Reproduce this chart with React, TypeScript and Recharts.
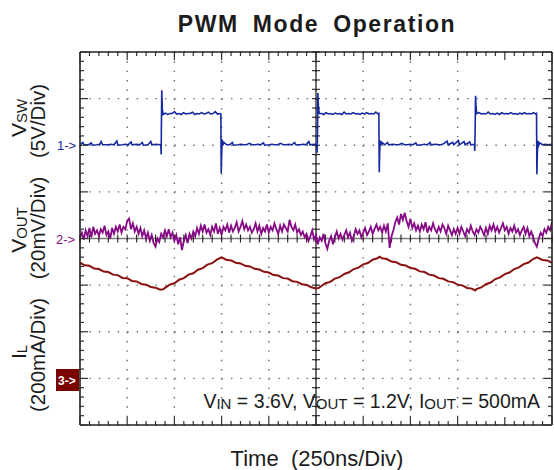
import React from 'react';
import { LineChart, Line, XAxis, YAxis, CartesianGrid, ReferenceLine } from 'recharts';

// scope screen: 10 div x 250 ns, 8 div vertical
const timeGrid = [0, 250, 500, 750, 1000, 1250, 1500, 1750, 2000, 2250, 2500];
const divGrid = [0, 1, 2, 3, 4, 5, 6, 7, 8];
const timeMinor = Array.from({ length: 51 }, (_, i) => i * 50);
const divMinor = Array.from({ length: 41 }, (_, i) => i / 5);

// CH1 - switch node (V), 5V/div, ground marker 2 div below top
const vswPoints: [number, number][] = [
  [0, 0.05], [15, 0.3], [22, 0.05], [45, 0.05], [60, 0.25], [66, 0.0], [90, 0.05], [105, 0.1], [112, 0.4], [120, 0.05],
  [150, 0.05], [165, 0.1], [180, 0.05], [195, 0.45], [201, 0.0], [225, 0.05], [240, 0.1], [255, 0.05], [270, 0.35], [276, 0.05],
  [300, 0.1], [315, 0.05], [330, 0.3], [336, 0.0], [360, 0.05], [375, 0.4], [381, 0.05], [405, 0.1], [420, 0.05], [428, 0.1],
  [430, -1.0], [431, 1.7], [433, 5.9], [436, 3.9], [440, 3.3],
  [452, 3.45], [464, 3.3], [476, 3.4], [488, 3.4], [500, 3.6], [512, 3.35], [524, 3.4], [536, 3.3], [548, 3.5], [560, 3.35],
  [572, 3.4], [584, 3.4], [596, 3.55], [608, 3.3], [620, 3.4], [632, 3.35], [644, 3.5], [656, 3.35], [668, 3.4], [680, 3.55],
  [692, 3.35], [704, 3.4], [716, 3.6], [728, 3.35], [740, 3.4], [746, 3.35],
  [748, -3.0], [750, -1.2], [753, 0.6], [757, 0.0], [762, 0.3],
  [777, 0.05], [792, 0.05], [807, 0.3], [813, 0.0], [837, 0.05], [852, 0.1], [867, 0.05], [882, 0.05], [897, 0.2], [912, 0.05],
  [927, 0.05], [942, 0.1], [957, 0.05], [972, 0.25], [978, 0.0], [1002, 0.05], [1017, 0.1], [1032, 0.05], [1047, 0.05], [1062, 0.2],
  [1077, 0.05], [1092, 0.05], [1107, 0.1], [1122, 0.05], [1137, 0.3], [1143, 0.05], [1167, 0.05], [1182, 0.1], [1197, 0.05], [1212, 0.4],
  [1218, 0.05], [1242, 0.1], [1254, 0.05],
  [1256, -0.8], [1258, 1.5], [1260, 5.6], [1263, 4.1], [1267, 3.4],
  [1279, 3.4], [1291, 3.3], [1303, 3.5], [1315, 3.35], [1327, 3.4], [1339, 3.3], [1351, 3.45], [1363, 3.35], [1375, 3.4], [1387, 3.3],
  [1399, 3.55], [1411, 3.35], [1423, 3.4], [1435, 3.35], [1447, 3.5], [1459, 3.35], [1471, 3.4], [1483, 3.3], [1495, 3.45], [1507, 3.35],
  [1519, 3.5], [1531, 3.35], [1543, 3.4], [1555, 3.35], [1567, 3.55], [1579, 3.35], [1583, 3.4],
  [1585, -2.9], [1587, -1.0], [1590, 0.5], [1594, 0.0], [1599, 0.3],
  [1614, 0.05], [1629, 0.3], [1635, 0.05], [1659, 0.1], [1674, 0.05], [1689, 0.05], [1704, 0.2], [1719, 0.05], [1734, 0.05], [1749, 0.1],
  [1764, 0.05], [1779, 0.25], [1785, 0.0], [1809, 0.05], [1824, 0.1], [1839, 0.05], [1854, 0.3], [1860, 0.05], [1884, 0.1], [1899, 0.05],
  [1914, 0.05], [1929, 0.2], [1944, 0.45], [1950, 0.05], [1974, 0.3], [1980, 0.05], [2004, 0.5], [2010, 0.05], [2034, 0.4], [2040, 0.05],
  [2064, 0.35], [2070, 0.05], [2089, 0.1],
  [2091, -0.6], [2093, 1.6], [2095, 5.3], [2098, 4.0], [2102, 3.4],
  [2114, 3.5], [2126, 3.35], [2138, 3.4], [2150, 3.35], [2162, 3.55], [2174, 3.35], [2186, 3.4], [2198, 3.3], [2210, 3.45], [2222, 3.3],
  [2234, 3.5], [2246, 3.35], [2258, 3.4], [2270, 3.35], [2282, 3.5], [2294, 3.35], [2306, 3.4], [2318, 3.3], [2330, 3.45], [2342, 3.35],
  [2354, 3.5], [2366, 3.35], [2378, 3.4], [2390, 3.35], [2402, 3.5], [2414, 3.35], [2418, 3.4],
  [2420, -3.1], [2422, -1.1], [2425, 0.5], [2430, 0.0], [2435, 0.25],
  [2450, 0.05], [2465, 0.1], [2480, 0.05], [2500, 0.1],
];

// CH2 - output ripple (mV), 20mV/div, one sample every 10 ns
const voutRipple = [
  0.5, 2.5, -0.5, 3.5, 1, 4.5, 0.5, 5, 2, 3.5,
  1, 4, 2.5, 5.5, 1.5, 3, 0, 4.5, 2, 5,
  3, 6, 2.5, 5, 4, 7.5, 8.5, 4, 6.5, 3,
  5, 2, 4.5, 1, 3.5, 0, 2.5, -1, 1.5, -2,
  -3.5, 0, -1.5, 2, 0.5, 3.5, 1, 4, 0.5, 2.5,
  -1, 1.5, -2.5, 0.5, -5, -1, 1.5, -2, 2, 0,
  3, 1, 4.5, 2, 5.5, 3, 6, 2.5, 4, 1.5,
  5, 3, 6.5, 2, 4.5, 1.5, 5, 3.5, 6, 2.5,
  5.5, 3, 4.5, 7, 3, 5, 7.5, 4, 6, 3.5,
  5, 2.5, 4, 6.5, 3, 5.5, 2, 4.5, 3, 6,
  2.5, 5, 3.5, 6.5, 4, 2, 5.5, 3, 6, 4.5,
  3, 8, 5, 3.5, 6, 2.5, 4, 1.5, 3, 0.5,
  2, -1, 1, 3.5, -0.5, 1.5, -2.5, 0.5, -1, 2,
  -2, -4.5, -1, 1, -2.5, 0.5, 3, 0, 2, -0.5,
  1.5, 3.5, 0.5, 2.5, -1, 1, 4, 2, 3.5, 0.5,
  2.5, 4.5, 1.5, 3, 5, 2, 4, 6, 3.5, 5,
  2.5, 5.5, 3, 6.5, -4, 1, 3.5, 7, 9, 6,
  10.5, 8, 11, 7.5, 5, 8.5, 4.5, 6.5, 3.5, 5.5,
  3, 6, 4, 7, 2.5, 5, 3.5, 6.5, 4, 2.5,
  5, 3, 6, 4.5, 2, 5.5, 3.5, 1.5, 4, 2,
  4.5, 2, 5, 3, 1, 4, 2.5, 5.5, 3, 1.5,
  4, 2.5, 5, 3.5, 1.5, 4.5, 2, 5.5, 3.5, 6,
  3, 5, 2.5, 4.5, 6.5, 3.5, 5, 2, 4.5, 3,
  5.5, 2.5, 4, 1.5, 3.5, 5, 2, 4.5, 1, 3,
  0.5, -2, -3.5, 0, 2.5, 1, 4, 2.5, 5, 3.5,
  7,
];

// CH3 - inductor current (mA), 200mA/div, ground marker 1 div above bottom
const ilPoints: [number, number][] = [
  [0, 496], [25, 485], [50, 483], [75, 471], [100, 469], [125, 458], [150, 456], [175, 445], [200, 443], [225, 431],
  [250, 430], [275, 418], [300, 416], [325, 405], [350, 402], [375, 392], [400, 389], [425, 380], [440, 382],
  [450, 388], [475, 402], [500, 408], [525, 423], [550, 430], [575, 445], [600, 451], [625, 466], [650, 473], [675, 488],
  [700, 494], [725, 509], [750, 519],
  [775, 509], [800, 506], [825, 496], [850, 493], [875, 483], [900, 480], [925, 470], [950, 467], [975, 457], [1000, 454],
  [1025, 443], [1050, 441], [1075, 430], [1100, 428], [1125, 417], [1150, 414], [1175, 404], [1200, 401], [1225, 391], [1250, 386],
  [1265, 388], [1275, 394], [1300, 408], [1325, 414], [1350, 428], [1375, 434], [1400, 448], [1425, 455], [1450, 469], [1475, 475],
  [1500, 489], [1525, 495], [1550, 509], [1575, 515], [1587, 522],
  [1600, 515], [1625, 512], [1650, 501], [1675, 498], [1700, 487], [1725, 484], [1750, 473], [1775, 470], [1800, 459], [1825, 456],
  [1850, 445], [1875, 441], [1900, 430], [1925, 427], [1950, 416], [1975, 413], [2000, 402], [2025, 399], [2050, 388], [2075, 385],
  [2093, 377], [2100, 383], [2125, 390], [2150, 404], [2175, 411], [2200, 426], [2225, 433], [2250, 447], [2275, 454], [2300, 469],
  [2325, 476], [2350, 490], [2375, 497], [2400, 512], [2420, 519], [2450, 508], [2475, 506], [2500, 495],
];

const vswData = vswPoints.map(([t, v]) => ({ t, v }));
const voutData = voutRipple.map((v, i) => ({ t: i * 10, v }));
const ilData = ilPoints.map(([t, v]) => ({ t, v }));

const BLUE = '#1428a0';
const PURPLE = '#860a86';
const RED = '#8b1010';
const INK = '#1c1c1c';

const isMajor = (side: string, value: number) =>
  side === 'top' || side === 'bottom' ? value % 250 === 0 : Math.abs(value - Math.round(value)) < 1e-6;

// inward tick marks along the screen border
const borderTick = (side: string) => (props: any) => {
  const { x, y, payload } = props;
  const len = isMajor(side, payload.value) ? 8 : 4;
  let x2 = x;
  let y2 = y;
  if (side === 'bottom') y2 = y - len;
  if (side === 'top') y2 = y + len;
  if (side === 'left') x2 = x + len;
  if (side === 'right') x2 = x - len;
  return <line x1={x} y1={y} x2={x2} y2={y2} stroke="#333" strokeWidth={1.2} />;
};

// centre graticule lines with small cross ticks every 0.2 div
const CenterV = (props: any) => {
  const { x1, y1, y2 } = props;
  const top = Math.min(y1, y2);
  const bot = Math.max(y1, y2);
  const step = (bot - top) / 40;
  return (
    <g>
      <line x1={x1} y1={top} x2={x1} y2={bot} stroke="#222" strokeWidth={1.3} />
      {Array.from({ length: 41 }, (_, i) => (
        <line key={i} x1={x1 - 4} x2={x1 + 4} y1={top + i * step} y2={top + i * step} stroke="#222" strokeWidth={1.1} />
      ))}
    </g>
  );
};

const CenterH = (props: any) => {
  const { x1, x2, y1 } = props;
  const left = Math.min(x1, x2);
  const right = Math.max(x1, x2);
  const step = (right - left) / 50;
  return (
    <g>
      <line x1={left} y1={y1} x2={right} y2={y1} stroke="#7d7d7d" strokeWidth={1.5} />
      {Array.from({ length: 51 }, (_, i) => (
        <line key={i} x1={left + i * step} x2={left + i * step} y1={y1 - 4} y2={y1 + 4} stroke="#222" strokeWidth={1.1} />
      ))}
    </g>
  );
};

const FONT = "'Liberation Sans', Arial, sans-serif";

export default function App() {
  return (
    <div style={{ position: 'absolute', left: 0, top: 0, width: 554, height: 470, background: '#fff' }}>
      <LineChart width={554} height={470} margin={{ top: 52, right: 2, bottom: 45, left: 80 }}>
        <XAxis xAxisId="g" type="number" dataKey="t" domain={[0, 2500]} ticks={timeGrid} allowDataOverflow hide />
        <YAxis yAxisId="g" type="number" domain={[0, 8]} ticks={divGrid} allowDataOverflow hide />
        <CartesianGrid xAxisId="g" yAxisId="g" vertical={false} stroke="#666" strokeWidth={1.4} strokeDasharray="1.4 8.04" />
        <CartesianGrid xAxisId="g" yAxisId="g" horizontal={false} stroke="#666" strokeWidth={1.4} strokeDasharray="1.4 7.925" />

        <XAxis
          xAxisId="b" type="number" dataKey="t" domain={[0, 2500]} ticks={timeMinor} interval={0} allowDataOverflow
          orientation="bottom" mirror tickLine={false} tickSize={0} tickMargin={0}
          axisLine={{ stroke: '#222', strokeWidth: 1.6 }} tick={borderTick('bottom')}
        />
        <XAxis
          xAxisId="top" type="number" dataKey="t" domain={[0, 2500]} ticks={timeMinor} interval={0} allowDataOverflow
          orientation="top" mirror tickLine={false} tickSize={0} tickMargin={0}
          axisLine={{ stroke: '#222', strokeWidth: 1.6 }} tick={borderTick('top')}
        />
        <YAxis
          yAxisId="l" type="number" domain={[0, 8]} ticks={divMinor} interval={0} allowDataOverflow
          orientation="left" mirror tickLine={false} tickSize={0} tickMargin={0}
          axisLine={{ stroke: '#222', strokeWidth: 1.6 }} tick={borderTick('left')}
        />
        <YAxis
          yAxisId="r" type="number" domain={[0, 8]} ticks={divMinor} interval={0} allowDataOverflow
          orientation="right" mirror tickLine={false} tickSize={0} tickMargin={0}
          axisLine={{ stroke: '#222', strokeWidth: 1.6 }} tick={borderTick('right')}
        />

        <YAxis yAxisId="vsw" type="number" domain={[-30, 10]} allowDataOverflow hide />
        <YAxis yAxisId="vout" type="number" domain={[-80, 80]} allowDataOverflow hide />
        <YAxis yAxisId="il" type="number" domain={[-200, 1400]} allowDataOverflow hide />

        <ReferenceLine xAxisId="b" yAxisId="l" x={1250} shape={CenterV} />
        <ReferenceLine xAxisId="b" yAxisId="l" y={4} shape={CenterH} />

        <Line xAxisId="b" yAxisId="il" data={ilData} dataKey="v" type="linear" dot={false}
          stroke={RED} strokeWidth={2} isAnimationActive={false} />
        <Line xAxisId="b" yAxisId="vout" data={voutData} dataKey="v" type="linear" dot={false}
          stroke={PURPLE} strokeWidth={1.8} isAnimationActive={false} />
        <Line xAxisId="b" yAxisId="vsw" data={vswData} dataKey="v" type="linear" dot={false}
          stroke={BLUE} strokeWidth={1.6} isAnimationActive={false} />
      </LineChart>

      <svg width={554} height={470} style={{ position: 'absolute', left: 0, top: 0, pointerEvents: 'none' }} fontFamily={FONT}>
        <text x={317} y={32} textAnchor="middle" fontSize={23} fontWeight="bold" letterSpacing={1.6} wordSpacing={6} fill={INK}>
          PWM Mode Operation
        </text>

        <text transform="translate(26,118) rotate(-90)" textAnchor="middle" fontSize={21} fill={INK}>
          V<tspan fontSize={15} dy={1}>SW</tspan>
        </text>
        <text transform="translate(45,121) rotate(-90)" textAnchor="middle" fontSize={20.5} fill={INK}>(5V/Div)</text>

        <text transform="translate(26,230) rotate(-90)" textAnchor="middle" fontSize={21} fill={INK}>
          V<tspan fontSize={15} dy={1}>OUT</tspan>
        </text>
        <text transform="translate(45,228) rotate(-90)" textAnchor="middle" fontSize={20.5} fill={INK}>(20mV/Div)</text>

        <text transform="translate(26,352) rotate(-90)" textAnchor="middle" fontSize={21} fill={INK}>
          I<tspan fontSize={15} dy={1}>L</tspan>
        </text>
        <text transform="translate(45,355) rotate(-90)" textAnchor="middle" fontSize={20.5} fill={INK}>(200mA/Div)</text>

        <text x={57} y={150} fontSize={13} fill={BLUE}>{'1->'}</text>
        <text x={56} y={244} fontSize={13} fill={PURPLE}>{'2->'}</text>
        <rect x={56} y={369} width={23} height={22} fill="#7a0000" />
        <text x={58} y={385} fontSize={12} fontWeight="bold" fill="#fff">{'3->'}</text>

        <text x={540} y={408} textAnchor="end" fontSize={19.5} fill={INK}>
          V<tspan fontSize={15} dy={1}>IN</tspan>
          <tspan dy={-1}>{' = 3.6V, V'}</tspan>
          <tspan fontSize={15} dy={1}>OUT</tspan>
          <tspan dy={-1}>{' = 1.2V, I'}</tspan>
          <tspan fontSize={15} dy={1}>OUT</tspan>
          <tspan dy={-1}>{' = 500mA'}</tspan>
        </text>

        <text x={317} y={466} textAnchor="middle" fontSize={22} fill={INK} style={{ whiteSpace: 'pre' }}>
          {'Time  (250ns/Div)'}
        </text>
      </svg>
    </div>
  );
}
